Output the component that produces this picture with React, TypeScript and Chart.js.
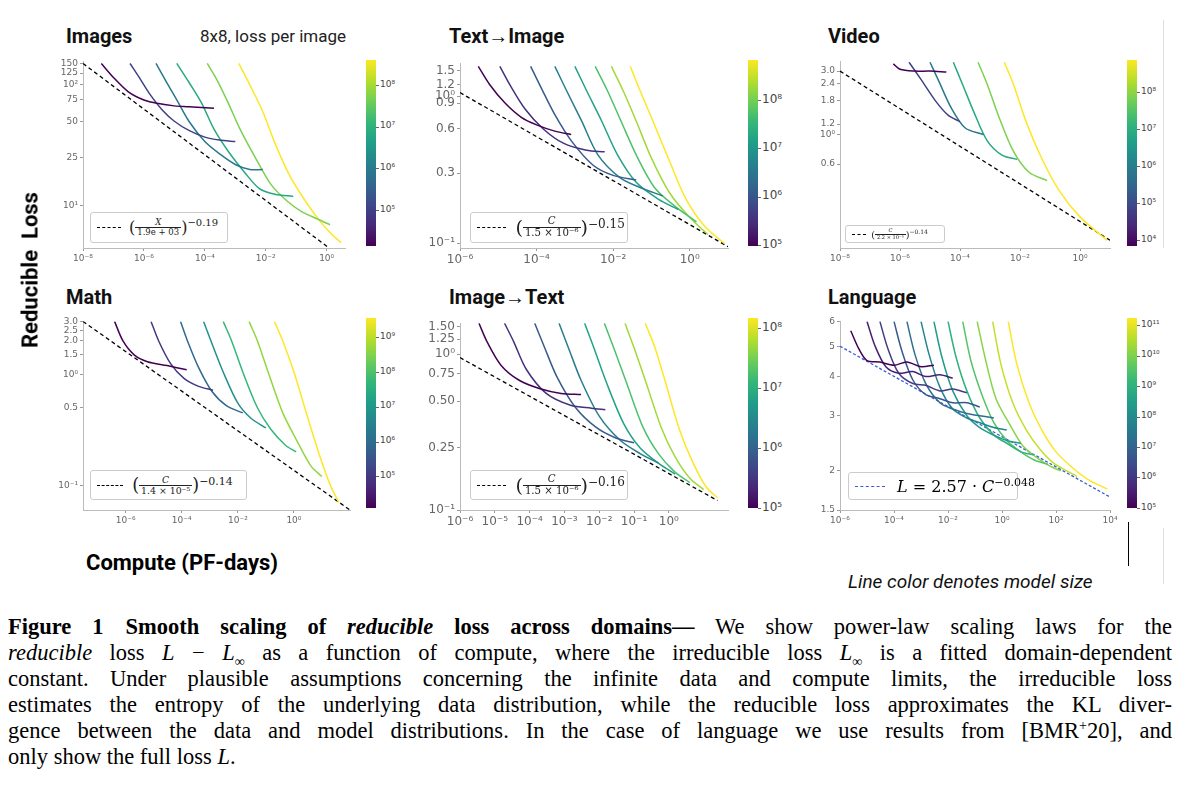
import React, { useEffect, useRef } from "react";
import { Chart, registerables } from "chart.js";
Chart.register(...registerables);

type Pt = [number, number];

// ---------- DATA ----------
const imagesCurves: Pt[][] = [
  [[4e-8,150],[1e-7,115],[3e-7,88],[1e-6,75],[3e-6,70],[1e-5,67],[3e-5,66],[2e-4,64]],
  [[3.5e-7,150],[7e-7,115],[1.5e-6,85],[4e-6,62],[1e-5,50],[3e-5,42],[1e-4,37],[3e-4,35],[1e-3,34]],
  [[2.5e-6,150],[5e-6,110],[1.2e-5,75],[3e-5,50],[1e-4,34],[3e-4,27],[1e-3,22],[3e-3,20],[8e-3,20]],
  [[1.2e-5,150],[3e-5,105],[8e-5,70],[2e-4,43],[6e-4,28],[2e-3,19],[6e-3,14],[2e-2,12.5],[8e-2,12]],
  [[1.2e-4,150],[2.5e-4,110],[6e-4,70],[1.5e-3,42],[5e-3,24],[1.5e-2,15],[5e-2,11],[1.5e-1,9],[5e-1,7.8],[1.3,7]],
  [[1.3e-3,150],[3e-3,100],[8e-3,60],[2e-2,33],[6e-2,18],[2e-1,11],[6e-1,7.5],[1.5,5.8],[3,5]],
];
const imagesFit: Pt[] = [[1e-8,150],[1.2,4.5]];

const t2iCurves: Pt[][] = [
  [[3e-6,1.6],[6e-6,1.2],[1.5e-5,0.9],[4e-5,0.72],[1e-4,0.64],[3e-4,0.58],[8e-4,0.55]],
  [[1.1e-5,1.6],[2e-5,1.2],[5e-5,0.82],[1.5e-4,0.6],[5e-4,0.48],[2e-3,0.43],[6e-3,0.42]],
  [[7e-5,1.6],[1.3e-4,1.15],[3e-4,0.75],[8e-4,0.5],[3e-3,0.34],[1e-2,0.29],[4e-2,0.27]],
  [[3e-4,1.6],[6e-4,1.1],[1.5e-3,0.68],[4e-3,0.4],[1.5e-2,0.28],[5e-2,0.24],[2e-1,0.21]],
  [[1e-3,1.6],[2e-3,1.1],[5e-3,0.68],[1.3e-2,0.4],[4e-2,0.26],[1.5e-1,0.2],[5e-1,0.17]],
  [[3.4e-3,1.6],[7e-3,1.1],[1.6e-2,0.68],[4e-2,0.4],[1.2e-1,0.24],[4e-1,0.18],[1.5,0.14]],
  [[9e-3,1.6],[1.8e-2,1.1],[4e-2,0.68],[1e-1,0.38],[3e-1,0.22],[1,0.15],[3,0.115]],
  [[2.8e-2,1.6],[5e-2,1.1],[1.2e-1,0.64],[3e-1,0.36],[8e-1,0.2],[2.5,0.13],[8,0.1]],
];
const t2iFit: Pt[] = [[1e-6,1.06],[1e1,0.095]];

const videoCurves: Pt[][] = [
  [[6e-7,3.4],[1e-6,3.1],[3e-6,3.0],[1e-5,3.0],[3.5e-5,2.95]],
  [[2e-6,3.5],[5e-6,2.6],[1.5e-5,1.8],[4e-5,1.4],[1e-4,1.25]],
  [[1e-5,3.5],[2e-5,2.5],[5e-5,1.6],[1.5e-4,1.12],[6e-4,1.0]],
  [[6e-5,3.5],[1.2e-4,2.4],[3e-4,1.45],[8e-4,0.9],[2.5e-3,0.7],[8e-3,0.65]],
  [[4e-4,3.5],[8e-4,2.4],[2e-3,1.35],[6e-3,0.75],[2e-2,0.52],[8e-2,0.45]],
  [[3e-3,3.5],[6e-3,2.4],[1.5e-2,1.3],[5e-2,0.68],[2e-1,0.38],[1,0.24],[8,0.16]],
];
const videoFit: Pt[] = [[1e-8,3.0],[1e1,0.16]];

const mathCurves: Pt[][] = [
  [[4e-7,3.0],[8e-7,2.0],[2e-6,1.5],[6e-6,1.3],[3e-5,1.2],[1.5e-4,1.1]],
  [[8e-6,3.0],[1.5e-5,2.0],[4e-5,1.25],[1.2e-4,0.92],[4e-4,0.78],[1.3e-3,0.72]],
  [[9e-5,3.0],[1.6e-4,2.0],[4e-4,1.15],[1.2e-3,0.7],[4e-3,0.52],[1.5e-2,0.45]],
  [[6e-4,3.0],[1.1e-3,2.0],[3e-3,1.05],[1e-2,0.55],[3e-2,0.4],[1e-1,0.33]],
  [[3e-3,3.0],[6e-3,2.0],[1.5e-2,1.05],[5e-2,0.5],[1.5e-1,0.32],[5e-1,0.23],[1.2,0.2]],
  [[2.5e-2,3.0],[5e-2,2.0],[1.2e-1,1.05],[4e-1,0.45],[1.2,0.26],[4,0.15],[1e1,0.12]],
  [[2e-1,3.0],[4e-1,2.0],[1,1.05],[3,0.42],[8,0.19],[2e1,0.1],[4e1,0.07]],
];
const mathFit: Pt[] = [[3e-8,3.0],[1e2,0.06]];

const i2tCurves: Pt[][] = [
  [[3.5e-6,1.58],[6e-6,1.2],[1.5e-5,0.85],[5e-5,0.68],[2e-4,0.6],[8e-4,0.56],[3e-3,0.55]],
  [[1.9e-5,1.58],[3.5e-5,1.2],[8e-5,0.8],[3e-4,0.56],[1.5e-3,0.47],[6e-3,0.45],[1.5e-2,0.44]],
  [[1.4e-4,1.58],[2.5e-4,1.15],[6e-4,0.72],[2e-3,0.46],[8e-3,0.34],[3e-2,0.29],[1e-1,0.27]],
  [[7e-4,1.58],[1.3e-3,1.1],[3e-3,0.68],[1e-2,0.4],[4e-2,0.28],[1.5e-1,0.23],[5e-1,0.2]],
  [[3.8e-3,1.58],[7e-3,1.1],[1.6e-2,0.66],[5e-2,0.36],[1.5e-1,0.25],[5e-1,0.2],[1.5,0.17]],
  [[1.4e-2,1.58],[2.6e-2,1.1],[6e-2,0.66],[1.8e-1,0.34],[5e-1,0.23],[1.5,0.175],[4,0.15]],
  [[5.5e-2,1.58],[1e-1,1.1],[2.2e-1,0.66],[6e-1,0.34],[1.5,0.22],[4,0.16],[1e1,0.135]],
  [[2.1e-1,1.58],[4e-1,1.1],[8e-1,0.66],[2,0.33],[5,0.2],[1.2e1,0.14],[2.5e1,0.12]],
];
const i2tFit: Pt[] = [[1e-6,0.95],[2.5e1,0.115]];

const langCurves: Pt[][] = [
  [[2.5e-6,5.6],[5e-6,4.9],[1e-5,4.5],[3e-5,4.45],[1e-4,4.35],[3e-4,4.45],[1e-3,4.3],[3e-3,4.35]],
  [[1e-5,6],[2e-5,5.0],[5e-5,4.3],[1.5e-4,4.1],[5e-4,4.15],[1.5e-3,4.0],[5e-3,4.05],[1.5e-2,3.95]],
  [[3e-5,6],[6e-5,4.9],[1.5e-4,4.1],[5e-4,3.8],[1.5e-3,3.75],[5e-3,3.6],[1.5e-2,3.65],[5e-2,3.55]],
  [[1e-4,6],[2e-4,4.8],[5e-4,3.9],[1.5e-3,3.5],[5e-3,3.4],[1.5e-2,3.3],[5e-2,3.3],[1.5e-1,3.2]],
  [[3e-4,6],[6e-4,4.7],[1.5e-3,3.8],[5e-3,3.3],[1.5e-2,3.15],[5e-2,3.05],[1.5e-1,3.0],[5e-1,2.95]],
  [[1e-3,6],[2e-3,4.7],[5e-3,3.7],[1.5e-2,3.15],[5e-2,2.95],[1.5e-1,2.85],[5e-1,2.75],[1.5,2.7]],
  [[3e-3,6],[6e-3,4.6],[1.5e-2,3.6],[5e-2,3.0],[1.5e-1,2.75],[5e-1,2.6],[1.5,2.5],[5,2.45]],
  [[1e-2,6],[2e-2,4.6],[5e-2,3.6],[1.5e-1,2.95],[5e-1,2.6],[1.5,2.45],[5,2.3],[1.5e1,2.25]],
  [[3.5e-2,6],[7e-2,4.5],[1.8e-1,3.5],[5e-1,2.85],[1.5,2.5],[5,2.3],[1.5e1,2.17],[5e1,2.1]],
  [[1.2e-1,6],[2.5e-1,4.5],[6e-1,3.4],[2,2.8],[6,2.4],[2e1,2.2],[6e1,2.07],[1.5e2,2.0]],
  [[4.5e-1,6],[9e-1,4.4],[2.5,3.3],[8,2.7],[2.5e1,2.35],[8e1,2.12],[2.5e2,2.0],[6e2,1.92]],
  [[1.7,6],[3.5,4.4],[1e1,3.3],[3e1,2.7],[1e2,2.3],[4e2,2.05],[1.5e3,1.88],[8e3,1.75]],
];
const langFit: Pt[] = [[1e-6,5.0],[1e4,1.65]];

const xTicks1 = [1e-8,1e-6,1e-4,1e-2,1]; const xLab1 = ["10⁻⁸","10⁻⁶","10⁻⁴","10⁻²","10⁰"];
const xTicks2 = [1e-6,1e-4,1e-2,1]; const xLab2 = ["10⁻⁶","10⁻⁴","10⁻²","10⁰"];
const xTicks5 = [1e-6,1e-5,1e-4,1e-3,1e-2,1e-1,1]; const xLab5 = ["10⁻⁶","10⁻⁵","10⁻⁴","10⁻³","10⁻²","10⁻¹","10⁰"];
const xTicks6 = [1e-6,1e-4,1e-2,1,1e2,1e4]; const xLab6 = ["10⁻⁶","10⁻⁴","10⁻²","10⁰","10²","10⁴"];
const yTicks1 = [150,125,100,75,50,25,10]; const yLab1 = ["150","125","10²","75","50","25","10¹"];
const yTicks2 = [1.5,1.2,1,0.9,0.6,0.3,0.1]; const yLab2 = ["1.5","1.2","10⁰","0.9","0.6","0.3","10⁻¹"];
const yTicks3 = [3,2.4,1.8,1.2,1,0.6]; const yLab3 = ["3.0","2.4","1.8","1.2","10⁰","0.6"];
const yTicks4 = [3,2.5,2,1.5,1,0.5,0.1]; const yLab4 = ["3.0","2.5","2.0","1.5","10⁰","0.5","10⁻¹"];
const yTicks5 = [1.5,1.25,1,0.75,0.5,0.25,0.1]; const yLab5 = ["1.50","1.25","10⁰","0.75","0.50","0.25","10⁻¹"];
const yTicks6 = [6,5,4,3,2,1.5]; const yLab6 = ["6","5","4","3","2","1.5"];

// ---------- STYLE ----------
const VIRIDIS = ["#440154","#482878","#3e4989","#31688e","#26828e","#1f9e89","#35b779","#6ece58","#b5de2b","#fde725"];
function hex(h: string) { return [1,3,5].map(i => parseInt(h.slice(i, i + 2), 16)); }
function colorAt(t: number) {
  const p = t * (VIRIDIS.length - 1); const i = Math.min(Math.floor(p), VIRIDIS.length - 2); const f = p - i;
  const a = hex(VIRIDIS[i]), b = hex(VIRIDIS[i + 1]);
  return `rgb(${a.map((v, k) => Math.round(v + (b[k] - v) * f)).join(",")})`;
}

type PanelCfg = {
  L: number; T: number; R: number; B: number;
  xmin: number; xmax: number; ymin: number; ymax: number;
  curves: Pt[][]; fit: Pt[]; fitColor: string; fitDash: number[];
  xt: number[]; xl: string[]; yt: number[]; yl: string[]; fs: number;
};

const panels: PanelCfg[] = [
  { L:83,T:58,R:345,B:248, xmin:1e-8,xmax:4,ymin:4.5,ymax:156, curves:imagesCurves, fit:imagesFit, fitColor:"#000", fitDash:[4,3], xt:xTicks1,xl:xLab1,yt:yTicks1,yl:yLab1, fs:9 },
  { L:460,T:58,R:728,B:248, xmin:1e-6,xmax:1e1,ymin:0.093,ymax:1.68, curves:t2iCurves, fit:t2iFit, fitColor:"#000", fitDash:[4,3], xt:xTicks2,xl:xLab2,yt:yTicks2,yl:yLab2, fs:12 },
  { L:840,T:58,R:1110,B:248, xmin:1e-8,xmax:1e1,ymin:0.14,ymax:3.55, curves:videoCurves, fit:videoFit, fitColor:"#000", fitDash:[4,3], xt:xTicks1,xl:xLab1,yt:yTicks3,yl:yLab3, fs:9 },
  { L:83,T:318,R:350,B:510, xmin:3e-8,xmax:1e2,ymin:0.06,ymax:3.0, curves:mathCurves, fit:mathFit, fitColor:"#000", fitDash:[4,3], xt:xTicks2,xl:xLab2,yt:yTicks4,yl:yLab4, fs:9 },
  { L:460,T:318,R:728,B:510, xmin:1e-6,xmax:5e1,ymin:0.1,ymax:1.58, curves:i2tCurves, fit:i2tFit, fitColor:"#000", fitDash:[4,3], xt:xTicks5,xl:xLab5,yt:yTicks5,yl:yLab5, fs:12 },
  { L:840,T:318,R:1110,B:510, xmin:1e-6,xmax:1e4,ymin:1.5,ymax:6, curves:langCurves, fit:langFit, fitColor:"#3a5bd9", fitDash:[3,2], xt:xTicks6,xl:xLab6,yt:yTicks6,yl:yLab6, fs:9 },
];

const YW = 45, XH = 20, PT = 4, PR = 10;

function Panel({ c }: { c: PanelCfg }) {
  const ref = useRef<HTMLCanvasElement>(null);
  useEffect(() => {
    const n = c.curves.length;
    const ds: any[] = c.curves.map((cv, i) => ({
      data: cv.map(([x, y]) => ({ x, y })), borderColor: colorAt(n === 1 ? 0 : i / (n - 1)),
      borderWidth: 1.5, pointRadius: 0, tension: 0.3, fill: false,
    }));
    ds.push({ data: c.fit.map(([x, y]) => ({ x, y })), borderColor: c.fitColor, borderDash: c.fitDash, borderWidth: 1.3, pointRadius: 0 });
    const tickCfg = (labels: string[]) => ({
      color: "#666", font: { size: c.fs, family: "DejaVu Sans" }, autoSkip: false, maxRotation: 0, padding: 2,
      callback: (_v: any, i: number) => labels[i],
    });
    const grid = { display: true, drawOnChartArea: false, tickLength: 3, color: "#999" };
    const chart = new Chart(ref.current!, {
      type: "line",
      data: { datasets: ds },
      options: {
        animation: false, responsive: false, parsing: false as any,
        layout: { padding: { top: PT, right: PR, left: 0, bottom: 0 } },
        plugins: { legend: { display: false }, tooltip: { enabled: false } },
        scales: {
          x: { type: "logarithmic", min: c.xmin, max: c.xmax, grid, border: { color: "#bbb" },
            afterBuildTicks: (s: any) => { s.ticks = c.xt.map(v => ({ value: v })); },
            afterFit: (s: any) => { s.height = XH; }, ticks: tickCfg(c.xl) as any },
          y: { type: "logarithmic", min: c.ymin, max: c.ymax, grid, border: { color: "#bbb" },
            afterBuildTicks: (s: any) => { s.ticks = c.yt.map(v => ({ value: v })); },
            afterFit: (s: any) => { s.width = YW; }, ticks: tickCfg(c.yl) as any },
        },
      } as any,
    });
    return () => chart.destroy();
  }, []);
  const w = c.R - c.L + YW + PR, h = c.B - c.T + PT + XH;
  return <canvas ref={ref} width={w} height={h} style={{ position: "absolute", left: c.L - YW, top: c.T - PT, width: w, height: h }} />;
}

type CB = { x: number; top: number; bot: number; min: number; max: number; exps: number[]; fs: number };
const colorbars: CB[] = [
  { x:366, top:60, bot:246, min:4.14, max:8.6, exps:[5,6,7,8], fs:9 },
  { x:748, top:60, bot:246, min:4.98, max:8.83, exps:[5,6,7,8], fs:12 },
  { x:1127, top:60, bot:246, min:3.84, max:8.86, exps:[4,5,6,7,8], fs:9 },
  { x:366, top:318, bot:508, min:4.09, max:9.55, exps:[5,6,7,8,9], fs:9 },
  { x:748, top:318, bot:508, min:5, max:8.17, exps:[5,6,7,8], fs:12 },
  { x:1127, top:318, bot:508, min:5, max:11.23, exps:[5,6,7,8,9,10,11], fs:9 },
];
const sup = (e: number) => String(e).split("").map(ch => "⁰¹²³⁴⁵⁶⁷⁸⁹"[+ch]).join("");

function Colorbar({ b }: { b: CB }) {
  const hgt = b.bot - b.top;
  return (
    <>
      <div style={{ position: "absolute", left: b.x, top: b.top, width: 10, height: hgt,
        background: `linear-gradient(to top, ${VIRIDIS.join(",")})` }} />
      {b.exps.map(e => {
        const y = b.bot - ((e - b.min) / (b.max - b.min)) * hgt;
        return <span key={e} style={{ position: "absolute", left: b.x + 14, top: y - b.fs * 0.7, fontSize: b.fs, color: "#444", fontFamily: "DejaVu Sans", whiteSpace: "nowrap" }}>
          <span style={{ position: "absolute", left: -4, top: b.fs * 0.7, width: 3, borderTop: "1px solid #666" }} />10{sup(e)}</span>;
      })}
    </>
  );
}

function Legend({ x, y, w, h, fs, num, den, exp }: any) {
  return (
    <div style={{ position: "absolute", left: x, top: y, width: w, height: h, border: "1px solid #ccc", borderRadius: 3, background: "#fff",
      display: "flex", alignItems: "center", fontFamily: "DejaVu Serif", fontSize: fs, color: "#222", boxSizing: "border-box", paddingLeft: 6, whiteSpace: "nowrap" }}>
      <span style={{ width: fs * 2.4, borderTop: "1.3px dashed #000", marginRight: fs * 0.8 }} />
      <span style={{ fontSize: fs * 1.6 }}>(</span>
      <span style={{ display: "inline-flex", flexDirection: "column", alignItems: "center", fontSize: fs * 0.85, lineHeight: 1.05 }}>
        <span style={{ fontStyle: "italic" }}>{num}</span>
        <span style={{ borderTop: "1px solid #222", padding: "0 2px" }}>{den}</span>
      </span>
      <span style={{ fontSize: fs * 1.6 }}>)</span>
      <span style={{ alignSelf: "flex-start", marginTop: h * 0.12 }}>{exp}</span>
    </div>
  );
}

const titles = [
  { t: "Images", x: 66, y: 24 }, { t: "Text→Image", x: 449, y: 24 }, { t: "Video", x: 828, y: 24 },
  { t: "Math", x: 66, y: 285 }, { t: "Image→Text", x: 449, y: 285 }, { t: "Language", x: 828, y: 285 },
];

const capStyle: React.CSSProperties = { textAlign: "justify", textAlignLast: "justify", height: 26, whiteSpace: "nowrap" as any };
const supS: React.CSSProperties = { lineHeight: 0, fontSize: 14 };

export default function App() {
  return (
    <div style={{ position: "fixed", left: 0, top: 0, width: 1196, height: 808, background: "#fff", overflow: "hidden" }}>
      {panels.map((c, i) => <Panel key={i} c={c} />)}
      {colorbars.map((b, i) => <Colorbar key={i} b={b} />)}
      {titles.map(t => <div key={t.t} style={{ position: "absolute", left: t.x, top: t.y, fontFamily: "Roboto", fontWeight: 700, fontSize: 20, color: "#111" }}>{t.t}</div>)}
      <div style={{ position: "absolute", left: 200, top: 26, fontFamily: "Roboto", fontSize: 17, color: "#222" }}>8x8, loss per image</div>
      <Legend x={90} y={212} w={138} h={31} fs={10} num="X" den="1.9e + 03" exp="−0.19" />
      <Legend x={470} y={212} w={158} h={31} fs={12} num="C" den="1.5 × 10⁻⁶" exp="−0.15" />
      <Legend x={845} y={225} w={100} h={18} fs={6} num="C" den="2.2 × 10⁻⁵" exp="−0.14" />
      <Legend x={90} y={470} w={157} h={30} fs={11} num="C" den="1.4 × 10⁻⁵" exp="−0.14" />
      <Legend x={470} y={470} w={158} h={30} fs={12} num="C" den="1.5 × 10⁻⁶" exp="−0.16" />
      <div style={{ position: "absolute", left: 848, top: 472, width: 170, height: 28, border: "1px solid #ccc", borderRadius: 3, background: "#fff",
        display: "flex", alignItems: "center", boxSizing: "border-box", paddingLeft: 6, fontFamily: "DejaVu Serif", fontSize: 16, whiteSpace: "nowrap" }}>
        <span style={{ width: 30, borderTop: "1px dashed #3a5bd9", marginRight: 12, flexShrink: 0 }} />
        <span><i>L</i> = 2.57 · <i>C</i><sup style={{ fontSize: 11, lineHeight: 0 }}>−0.048</sup></span>
      </div>
      <div style={{ position: "absolute", left: 30, top: 270, transform: "translate(-50%,-50%) rotate(-90deg)", fontFamily: "Roboto", fontWeight: 700, fontSize: 22, whiteSpace: "nowrap" }}>Reducible&nbsp; Loss</div>
      <div style={{ position: "absolute", left: 86, top: 550, fontFamily: "Roboto", fontWeight: 700, fontSize: 22 }}>Compute (PF-days)</div>
      <div style={{ position: "absolute", left: 1128, top: 522, width: 1, height: 44, background: "#000" }} />
      <div style={{ position: "absolute", left: 1163, top: 20, width: 1, height: 228, background: "#ddd" }} />
      <div style={{ position: "absolute", left: 1163, top: 528, width: 1, height: 56, background: "#ddd" }} />
      <div style={{ position: "absolute", left: 848, top: 570, fontFamily: "Roboto", fontStyle: "italic", fontSize: 19, color: "#111" }}>Line color denotes model size</div>
      <div style={{ position: "absolute", left: 8, top: 614, width: 1164, fontFamily: "Liberation Serif", fontSize: 22.5, lineHeight: "26px", color: "#000" }}>
        <div style={capStyle}><b>Figure 1<span style={{ display: "inline-block", width: 22 }} />Smooth scaling of <i>reducible</i> loss across domains—</b> We show power-law scaling laws for the</div>
        <div style={capStyle}><i>reducible</i> loss <i>L</i> − <i>L</i><sub style={supS}>∞</sub> as a function of compute, where the irreducible loss <i>L</i><sub style={supS}>∞</sub> is a fitted domain-dependent</div>
        <div style={capStyle}>constant. Under plausible assumptions concerning the infinite data and compute limits, the irreducible loss</div>
        <div style={capStyle}>estimates the entropy of the underlying data distribution, while the reducible loss approximates the KL diver-</div>
        <div style={capStyle}>gence between the data and model distributions. In the case of language we use results from [BMR<sup style={supS}>+</sup>20], and</div>
        <div style={{ height: 26 }}>only show the full loss <i>L</i>.</div>
      </div>
    </div>
  );
}
